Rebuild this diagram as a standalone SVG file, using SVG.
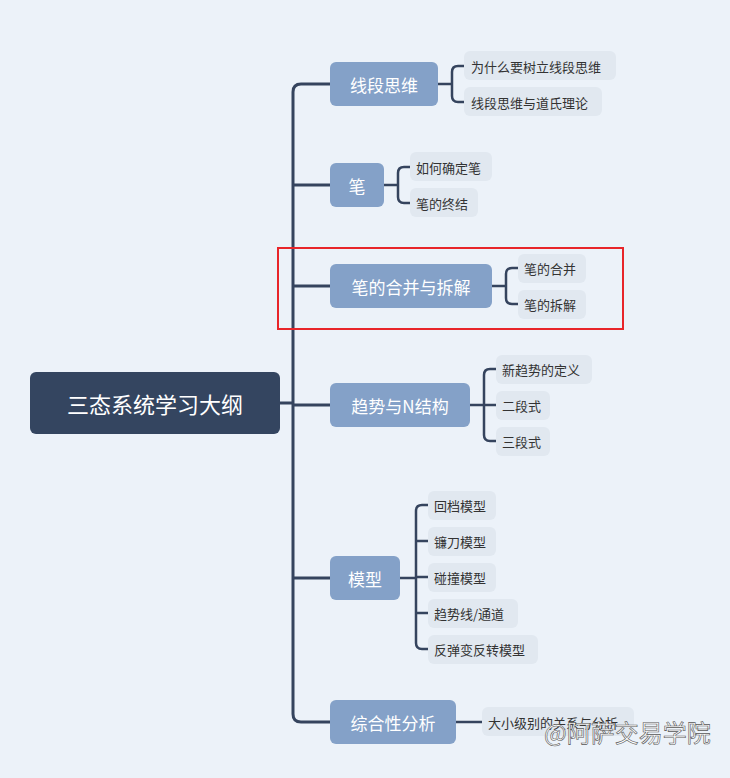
<svg xmlns="http://www.w3.org/2000/svg" width="730" height="778" viewBox="0 0 730 778">
<style>
.m{fill:#84a1c8}.l{fill:#e1e8f0}
.mt{fill:#fff;font-family:"Noto Sans CJK SC",sans-serif;font-size:17px;text-anchor:middle;dominant-baseline:central}
.lt{fill:#333;font-family:"Noto Sans CJK SC",sans-serif;font-size:13px;dominant-baseline:central}
.c path{fill:none;stroke:#35445e;stroke-width:2.5;stroke-linecap:round}
</style>
<rect width="730" height="778" fill="#ecf2f9"/>
<g class="c" id="connectors">
<path d="M280 403H293 M330 84H301Q293 84 293 92V714Q293 722 301 722H330 M293 185H330 M293 286H330 M293 405H330 M293 578H330" style="stroke-width:3"/>
<path d="M438 84H452 M464 66H458Q452 66 452 72V96Q452 102 458 102H464"/>
<path d="M384 185H398 M410 167H404Q398 167 398 173V197Q398 203 404 203H410"/>
<path d="M492 286H506 M518 268H512Q506 268 506 274V298Q506 304 512 304H518"/>
<path d="M470 405H496 M496 369H490Q484 369 484 375V435Q484 441 490 441H496"/>
<path d="M400 578H416 M428 505H422Q416 505 416 511V643Q416 649 422 649H428 M416 541H428 M416 577H428 M416 613H428"/>
<path d="M456 722H482"/>
</g>
<g id="root"><rect x="30" y="372" width="250" height="62" rx="6" fill="#344560"/><text x="155" y="403" class="mt" style="font-size:22px">三态系统学习大纲</text></g>
<g id="n1"><rect class="m" x="330" y="62" width="108" height="44" rx="6"/><text class="mt" x="384" y="84">线段思维</text></g>
<g id="n2"><rect class="m" x="330" y="163" width="54" height="44" rx="6"/><text class="mt" x="357" y="185">笔</text></g>
<g id="n3"><rect class="m" x="330" y="264" width="162" height="44" rx="6"/><text class="mt" x="411" y="286">笔的合并与拆解</text></g>
<g id="n4"><rect class="m" x="330" y="383" width="140" height="44" rx="6"/><text class="mt" x="400" y="405">趋势与N结构</text></g>
<g id="n5"><rect class="m" x="330" y="556" width="70" height="44" rx="6"/><text class="mt" x="365" y="578">模型</text></g>
<g id="n6"><rect class="m" x="330" y="700" width="126" height="44" rx="6"/><text class="mt" x="393" y="722">综合性分析</text></g>
<g id="l1"><rect class="l" x="464" y="51" width="152" height="29" rx="6"/><text class="lt" x="471" y="66">为什么要树立线段思维</text></g>
<g id="l2"><rect class="l" x="464" y="87" width="138" height="29" rx="6"/><text class="lt" x="471" y="102">线段思维与道氏理论</text></g>
<g id="l3"><rect class="l" x="410" y="152" width="82" height="29" rx="6"/><text class="lt" x="416" y="167">如何确定笔</text></g>
<g id="l4"><rect class="l" x="410" y="188" width="68" height="29" rx="6"/><text class="lt" x="416" y="203">笔的终结</text></g>
<g id="l5"><rect class="l" x="518" y="254" width="68" height="29" rx="6"/><text class="lt" x="524" y="268">笔的合并</text></g>
<g id="l6"><rect class="l" x="518" y="290" width="68" height="29" rx="6"/><text class="lt" x="524" y="304">笔的拆解</text></g>
<g id="l7"><rect class="l" x="496" y="355" width="96" height="29" rx="6"/><text class="lt" x="502" y="369">新趋势的定义</text></g>
<g id="l8"><rect class="l" x="496" y="391" width="54" height="29" rx="6"/><text class="lt" x="502" y="405">二段式</text></g>
<g id="l9"><rect class="l" x="496" y="427" width="54" height="29" rx="6"/><text class="lt" x="502" y="441">三段式</text></g>
<g id="l10"><rect class="l" x="428" y="491" width="68" height="29" rx="6"/><text class="lt" x="434" y="505">回档模型</text></g>
<g id="l11"><rect class="l" x="428" y="527" width="68" height="29" rx="6"/><text class="lt" x="434" y="541">镰刀模型</text></g>
<g id="l12"><rect class="l" x="428" y="563" width="68" height="29" rx="6"/><text class="lt" x="434" y="577">碰撞模型</text></g>
<g id="l13"><rect class="l" x="428" y="599" width="90" height="29" rx="6"/><text class="lt" x="434" y="613">趋势线/通道</text></g>
<g id="l14"><rect class="l" x="428" y="635" width="110" height="29" rx="6"/><text class="lt" x="434" y="649">反弹变反转模型</text></g>
<g id="l15"><rect class="l" x="482" y="707" width="152" height="29" rx="6"/><text class="lt" x="488" y="722">大小级别的关系与分析</text></g>
<rect x="278" y="248" width="345" height="81" fill="none" stroke="#e8252a" stroke-width="2"/>
<text x="544" y="742" font-family="'Noto Sans CJK SC',sans-serif" font-size="24" fill="#fff" stroke="#555" stroke-width="0.6">@阿萨交易学院</text>
</svg>
